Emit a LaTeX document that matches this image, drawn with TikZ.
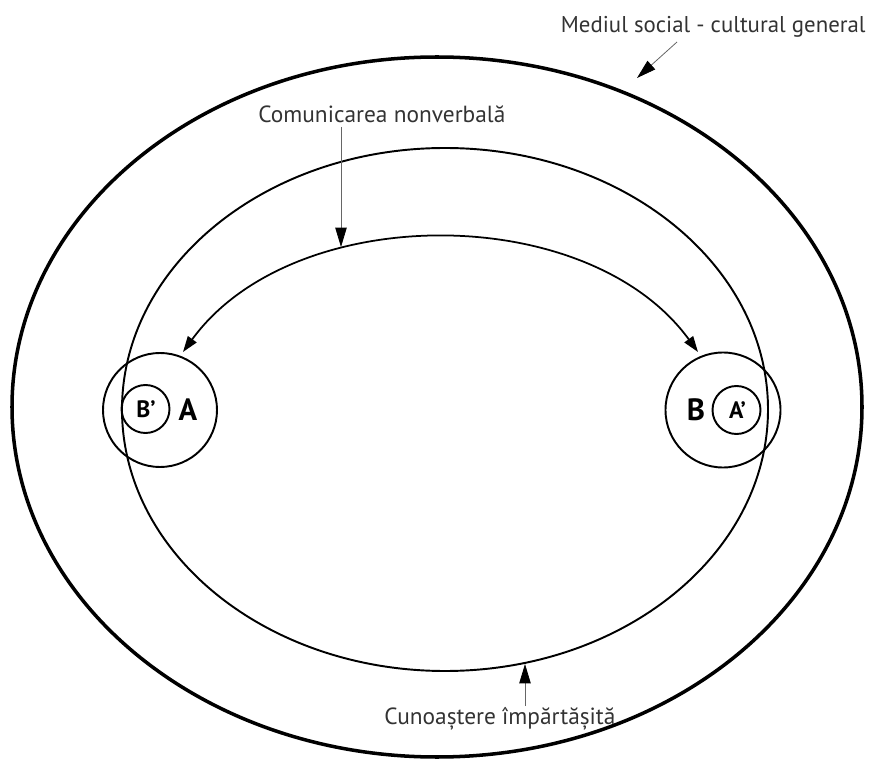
\documentclass[tikz,border=0pt]{standalone}
\usepackage{fontspec}
\setmainfont{PT Sans}
\usetikzlibrary{arrows.meta}
\begin{document}
\begin{tikzpicture}[x=0.02cm, y=-0.02cm,
  lbl/.style={font=\fontsize{13.3}{15}\selectfont, text=black!80, inner sep=0pt, anchor=base west},
  bigletter/.style={font=\bfseries\fontsize{17.5}{19}\selectfont, inner sep=0pt},
  smallletter/.style={font=\bfseries\fontsize{13.5}{15}\selectfont, inner sep=0pt},
  outerring/.style={line width=2pt},
  ring/.style={line width=1.1pt},
  pointer/.style={draw=black!60, line width=0.45pt, -{Triangle[length=11pt,width=6.5pt,color=black]}},
  exchange/.style={line width=1pt, {Triangle[length=9pt,width=6pt]}-{Triangle[length=9pt,width=6pt]}}]
  \useasboundingbox (0,0) rectangle (873,760);

  % social-cultural environment and shared knowledge
  \draw[outerring] (437,407) ellipse [x radius=425, y radius=350];
  \draw[ring] (445,409.5) ellipse [x radius=323, y radius=261.5];

  % the two partners and their images of each other
  \draw[ring] (160,410) circle [radius=57];
  \draw[ring] (145.5,409) circle [radius=24];
  \draw[ring] (723,410) circle [radius=57.5];
  \draw[ring] (736.5,410) circle [radius=24];
  \node[bigletter] (pA) at (188,410) {A};
  \node[smallletter] (pBimg) at (146,409) {B’};
  \node[bigletter] (pB) at (696,410) {B};
  \node[smallletter] (pAimg) at (737.5,410) {A’};

  % nonverbal exchange between A and B
  \coordinate (tipA) at (183,352);
  \coordinate (tipB) at (698,352);
  \draw[exchange] (tipA) .. controls (293,200.7) and (588,200.7) .. (tipB);

  % labels with their pointers
  \node[lbl, font=\fontsize{13}{15}\selectfont, anchor=base east] (lblEnv) at (866,33) {Mediul social - cultural general};
  \node[lbl] (lblCom) at (258,123) {Comunicarea nonverbală};
  \node[lbl] (lblKno) at (384,724) {Cunoaștere împărtășită};

  \coordinate (envFrom) at (677,42);
  \coordinate (envTo) at (637,78);
  \coordinate (comFrom) at (341,127);
  \coordinate (comTo) at (341,247);
  \coordinate (knoFrom) at (525,706);
  \coordinate (knoTo) at (525,664);
  \draw[pointer] (envFrom) -- (envTo);
  \draw[pointer] (comFrom) -- (comTo);
  \draw[pointer] (knoFrom) -- (knoTo);
\end{tikzpicture}
\end{document}
